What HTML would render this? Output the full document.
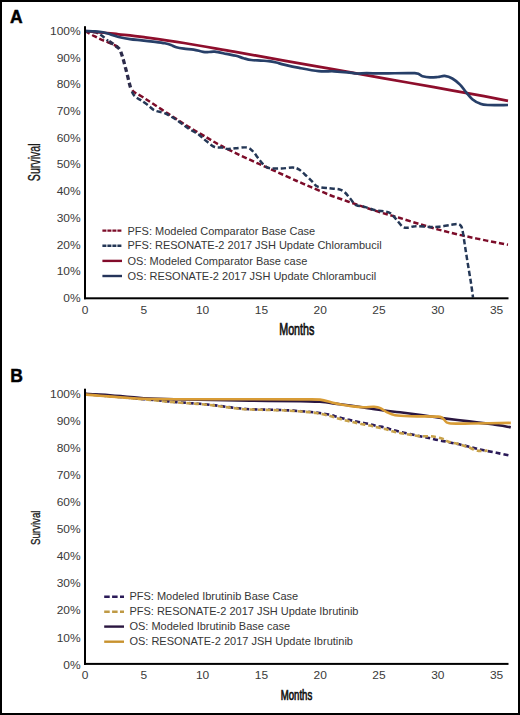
<!DOCTYPE html>
<html><head><meta charset="utf-8"><style>
html,body{margin:0;padding:0;background:#fff;}
body{width:520px;height:715px;overflow:hidden;}
svg{display:block;}
text{font-family:"Liberation Sans",sans-serif;}
.tick text{font-size:11.4px;fill:#3a3a3a;}
.leg text{font-size:11px;fill:#363636;}
.panel{font-weight:bold;font-size:17.5px;fill:#000;stroke:#000;stroke-width:0.45px;}
.axt{font-weight:bold;fill:#111;}
.axt2{fill:#1a1a1a;stroke:#1a1a1a;stroke-width:0.35px;}
.axt3{fill:#111;stroke:#111;stroke-width:0.7px;}
</style></head><body>
<svg width="520" height="715" viewBox="0 0 520 715">
<rect x="0" y="0" width="520" height="715" fill="#fff"/>
<!-- Panel A -->
<text x="10" y="22.5" class="panel">A</text>
<g class="tick">
<text transform="translate(80.6,34.9) scale(1.05,1)" text-anchor="end">100%</text>
<text transform="translate(80.6,61.6) scale(1.05,1)" text-anchor="end">90%</text>
<text transform="translate(80.6,88.3) scale(1.05,1)" text-anchor="end">80%</text>
<text transform="translate(80.6,115.0) scale(1.05,1)" text-anchor="end">70%</text>
<text transform="translate(80.6,141.7) scale(1.05,1)" text-anchor="end">60%</text>
<text transform="translate(80.6,168.4) scale(1.05,1)" text-anchor="end">50%</text>
<text transform="translate(80.6,195.1) scale(1.05,1)" text-anchor="end">40%</text>
<text transform="translate(80.6,221.9) scale(1.05,1)" text-anchor="end">30%</text>
<text transform="translate(80.6,248.6) scale(1.05,1)" text-anchor="end">20%</text>
<text transform="translate(80.6,275.3) scale(1.05,1)" text-anchor="end">10%</text>
<text transform="translate(80.6,302.0) scale(1.05,1)" text-anchor="end">0%</text>
<text transform="translate(85.0,313.5) scale(1.05,1)" text-anchor="middle">0</text>
<text transform="translate(143.8,313.5) scale(1.05,1)" text-anchor="middle">5</text>
<text transform="translate(202.6,313.5) scale(1.05,1)" text-anchor="middle">10</text>
<text transform="translate(261.4,313.5) scale(1.05,1)" text-anchor="middle">15</text>
<text transform="translate(320.2,313.5) scale(1.05,1)" text-anchor="middle">20</text>
<text transform="translate(379.0,313.5) scale(1.05,1)" text-anchor="middle">25</text>
<text transform="translate(437.8,313.5) scale(1.05,1)" text-anchor="middle">30</text>
<text transform="translate(496.6,313.5) scale(1.05,1)" text-anchor="middle">35</text>
</g>
<text class="axt2" transform="translate(39.9,162.3) rotate(-90) scale(0.655,1)" text-anchor="middle" font-size="16.2">Survival</text>
<text class="axt3" transform="translate(296.8,334.6) scale(0.655,1)" text-anchor="middle" font-size="16.4">Months</text>
<g fill="none" stroke-linejoin="round">
<path d="M85.0,31.0 C86.6,31.9 91.7,34.8 94.4,36.2 C97.1,37.6 99.0,38.6 101.3,39.6 C103.6,40.6 105.9,41.4 108.0,42.3 C110.1,43.2 112.3,44.0 114.0,44.8 C115.7,45.6 116.9,46.2 118.0,47.2" stroke="#7c0c29" stroke-width="2.5" stroke-dasharray="5.3 2.7"/>
<path d="M132.3,90.3 C133.2,91.5 134.1,92.0 135.5,93.0 C136.9,94.0 138.7,94.6 141.0,96.0 C143.3,97.4 144.6,98.3 149.2,101.3 C153.8,104.3 162.1,109.7 168.5,113.9 C174.9,118.1 181.3,122.3 187.7,126.3 C194.1,130.2 201.5,134.4 206.9,137.6 C212.3,140.8 214.6,142.3 220.0,145.2 C225.4,148.1 232.8,151.7 239.2,154.8 C245.6,157.9 252.1,160.8 258.5,163.7 C264.9,166.6 271.3,169.4 277.7,172.3 C284.1,175.2 291.5,178.6 296.9,181.0 C302.3,183.4 304.6,184.3 310.0,186.6 C315.4,188.9 322.8,192.3 329.2,194.8 C335.6,197.3 342.1,199.4 348.5,201.7 C354.9,203.9 361.3,206.2 367.7,208.3 C374.1,210.4 381.5,212.7 386.9,214.3 C392.3,215.9 394.6,216.4 400.0,218.0 C405.4,219.6 412.8,222.1 419.2,224.0 C425.6,225.9 432.1,227.9 438.5,229.6 C444.9,231.3 451.3,232.9 457.7,234.4 C464.1,235.9 469.8,237.1 476.9,238.6 C483.9,240.1 494.8,242.3 500.0,243.3 C505.2,244.3 506.7,244.5 508.0,244.7" stroke="#7c0c29" stroke-width="2.5" stroke-dasharray="5.3 2.7"/>
<path d="M85.0,31.0 C86.8,31.2 92.8,31.7 95.5,32.4 C98.2,33.1 99.2,33.9 101.3,35.3 C103.4,36.7 105.9,39.1 108.2,40.8" stroke="#243756" stroke-width="2.5" stroke-dasharray="5.3 2.7"/>
<path d="M108.2,40.8 C110.5,42.5 113.3,44.1 115.2,45.5 C117.1,46.9 118.5,47.7 119.6,49.2 C120.7,50.8 121.1,52.9 121.8,54.8 C122.5,56.7 123.0,58.5 123.6,60.6 C124.2,62.7 124.8,65.0 125.4,67.5 C126.1,70.0 126.8,72.9 127.5,75.6 C128.2,78.3 128.8,81.2 129.4,83.5 C130.0,85.8 130.5,87.7 131.2,89.6" stroke="#2c2b4a" stroke-width="3.3" stroke-dasharray="5 3" stroke-dashoffset="-1"/>
<path d="M131.2,89.6 C131.9,91.5 132.5,93.4 133.6,94.8 C134.7,96.2 136.2,97.2 137.5,98.2 C138.8,99.2 139.8,99.4 141.5,100.6 C143.2,101.8 145.8,103.6 148.0,105.3 C150.2,107.0 152.2,109.3 155.0,110.6 C157.8,111.9 161.1,111.7 164.6,113.2 C168.1,114.7 172.3,117.2 176.2,119.7 C180.0,122.2 183.9,125.5 187.7,128.0 C191.5,130.6 196.0,132.7 199.2,135.0 C202.4,137.3 204.3,139.6 206.9,141.6 C209.5,143.6 212.0,146.0 214.6,147.0 C217.2,148.0 220.1,147.3 222.3,147.6 C224.5,147.9 225.5,148.9 227.7,149.0 C229.9,149.1 232.2,148.6 235.4,148.3 C238.6,148.1 244.0,147.0 246.9,147.5 C249.8,148.0 250.8,149.3 252.7,151.2 C254.6,153.0 256.6,156.2 258.5,158.6 C260.4,160.9 262.3,163.7 264.2,165.3 C266.1,166.9 267.1,167.8 270.0,168.3 C272.9,168.8 277.7,168.6 281.5,168.5 C285.3,168.4 290.1,167.4 293.0,167.6 C295.9,167.8 296.9,168.3 298.8,169.4 C300.7,170.5 302.4,172.2 304.6,174.2 C306.9,176.2 310.1,179.5 312.3,181.6 C314.5,183.7 314.9,185.5 317.7,186.6 C320.5,187.7 325.7,187.9 329.2,188.3 C332.7,188.8 336.2,188.7 338.8,189.3 C341.4,190.0 342.7,190.6 344.6,192.2 C346.5,193.8 348.5,196.6 350.4,198.8 C352.3,201.0 354.0,203.9 356.2,205.2 C358.4,206.5 360.6,205.8 363.8,206.6 C367.0,207.4 371.9,209.5 375.4,210.3 C378.9,211.1 382.4,210.9 385.0,211.4 C387.6,211.9 388.9,212.2 390.8,213.6 C392.7,215.0 394.6,217.5 396.5,219.6 C398.4,221.7 400.6,225.0 402.3,226.4 C404.1,227.8 404.8,227.8 407.0,227.8 C409.2,227.8 411.8,226.3 415.4,226.2 C419.0,226.0 424.9,226.8 428.8,226.9 C432.7,227.0 435.0,227.1 438.5,226.8 C442.0,226.5 446.8,225.5 450.0,225.0 C453.2,224.5 455.9,223.8 457.7,224.0 C459.5,224.2 460.1,224.7 461.0,226.0 C461.9,227.3 462.1,228.3 462.8,232.0 C463.5,235.7 464.4,242.3 465.3,248.0 C466.2,253.7 467.2,260.2 468.2,266.0 C469.1,271.8 470.2,277.8 471.0,283.0 C471.8,288.2 472.7,295.1 473.0,297.5" stroke="#243756" stroke-width="2.5" stroke-dasharray="5.3 2.7" stroke-dashoffset="-2"/>
<path d="M85.0,31.0 C88.7,31.3 101.4,32.5 107.0,33.0 C112.6,33.5 112.4,33.6 118.6,34.3 C124.8,35.0 133.1,35.8 144.0,37.2 C154.9,38.7 169.0,40.6 184.0,43.0 C199.0,45.4 217.3,48.8 234.0,51.7 C250.7,54.6 267.3,57.6 284.0,60.6 C300.7,63.6 317.3,66.5 334.0,69.4 C350.7,72.4 367.3,75.3 384.0,78.3 C400.7,81.3 417.3,84.2 434.0,87.2 C450.7,90.2 471.7,93.9 484.0,96.2 C496.3,98.5 504.0,100.0 508.0,100.8" stroke="#8e0e2c" stroke-width="2.7"/>
<path d="M85.0,31.0 C86.7,31.1 92.0,31.2 95.0,31.4 C98.0,31.6 100.5,31.8 103.0,32.3 C105.5,32.8 107.4,33.4 110.0,34.2 C112.6,35.0 115.3,36.2 118.6,37.0 C121.9,37.8 126.2,38.7 130.0,39.2 C133.8,39.8 137.9,39.9 141.7,40.3 C145.5,40.7 149.2,41.1 153.0,41.6 C156.8,42.1 161.8,42.7 164.8,43.3 C167.8,43.9 169.1,44.3 171.0,45.0 C172.9,45.7 174.1,46.7 176.3,47.3 C178.5,47.9 181.1,48.3 184.0,48.7 C186.9,49.1 190.4,49.1 193.6,49.6 C196.8,50.1 200.6,51.4 203.2,51.8 C205.8,52.2 207.1,52.0 209.0,52.0 C210.9,52.0 211.9,51.4 214.8,51.7 C217.7,52.0 222.8,53.2 226.3,53.9 C229.8,54.6 233.1,55.1 236.0,55.8 C238.9,56.5 241.0,57.5 243.6,58.2 C246.2,58.9 248.4,59.6 251.3,60.0 C254.2,60.4 258.1,60.4 261.0,60.6 C263.9,60.8 266.1,60.8 268.6,61.1 C271.2,61.4 273.7,61.9 276.3,62.5 C278.9,63.1 280.1,63.7 284.0,64.6 C287.9,65.5 293.6,66.8 299.4,67.9 C305.2,69.0 312.8,70.5 318.6,71.1 C324.4,71.7 329.2,71.1 334.0,71.3 C338.8,71.5 343.7,71.9 347.5,72.3 C351.3,72.7 353.8,73.3 357.0,73.5 C360.2,73.7 362.2,73.2 366.7,73.2 C371.2,73.2 376.0,73.4 384.0,73.4 C392.0,73.4 408.4,72.7 414.8,73.2 C421.2,73.7 420.0,75.5 422.5,76.2 C425.0,76.9 427.4,77.3 430.0,77.4 C432.6,77.5 435.4,77.2 437.8,77.0 C440.2,76.8 442.2,75.7 444.6,75.9 C447.0,76.2 449.7,77.0 452.3,78.5 C454.9,80.0 457.7,82.3 460.0,84.6 C462.3,86.9 464.1,89.9 466.2,92.3 C468.2,94.7 470.0,97.3 472.3,99.2 C474.6,101.1 477.4,102.6 480.0,103.6 C482.6,104.6 483.0,104.8 487.7,105.0 C492.4,105.2 504.6,105.0 508.0,105.0" stroke="#273f68" stroke-width="2.7"/>
</g>
<rect x="84" y="26.2" width="2" height="273" fill="#000"/>
<rect x="84" y="297.3" width="424.5" height="2" fill="#000"/>
<g class="leg">
<line x1="102.4" y1="230.6" x2="122" y2="230.6" stroke="#7c0c29" stroke-width="2.4" stroke-dasharray="4 1"/>
<text x="127.5" y="234.5">PFS: Modeled Comparator Base Case</text>
<line x1="102.4" y1="245.8" x2="122" y2="245.8" stroke="#243756" stroke-width="2.4" stroke-dasharray="4 1"/>
<text x="127.5" y="249.3">PFS: RESONATE-2 2017 JSH Update Chlorambucil</text>
<line x1="102.4" y1="260.9" x2="122" y2="260.9" stroke="#820b2a" stroke-width="2.4"/>
<text x="127.5" y="264.5">OS: Modeled Comparator Base case</text>
<line x1="102.4" y1="276.0" x2="122" y2="276.0" stroke="#25345a" stroke-width="2.4"/>
<text x="127.5" y="279.7">OS: RESONATE-2 2017 JSH Update Chlorambucil</text>
</g>
<!-- Panel B -->
<text x="10.3" y="382.1" class="panel">B</text>
<g class="tick">
<text transform="translate(80.6,397.7) scale(1.05,1)" text-anchor="end">100%</text>
<text transform="translate(80.6,424.8) scale(1.05,1)" text-anchor="end">90%</text>
<text transform="translate(80.6,451.9) scale(1.05,1)" text-anchor="end">80%</text>
<text transform="translate(80.6,479.0) scale(1.05,1)" text-anchor="end">70%</text>
<text transform="translate(80.6,506.1) scale(1.05,1)" text-anchor="end">60%</text>
<text transform="translate(80.6,533.1) scale(1.05,1)" text-anchor="end">50%</text>
<text transform="translate(80.6,560.2) scale(1.05,1)" text-anchor="end">40%</text>
<text transform="translate(80.6,587.3) scale(1.05,1)" text-anchor="end">30%</text>
<text transform="translate(80.6,614.4) scale(1.05,1)" text-anchor="end">20%</text>
<text transform="translate(80.6,641.5) scale(1.05,1)" text-anchor="end">10%</text>
<text transform="translate(80.6,668.6) scale(1.05,1)" text-anchor="end">0%</text>
<text transform="translate(85.0,679.2) scale(1.05,1)" text-anchor="middle">0</text>
<text transform="translate(143.8,679.2) scale(1.05,1)" text-anchor="middle">5</text>
<text transform="translate(202.6,679.2) scale(1.05,1)" text-anchor="middle">10</text>
<text transform="translate(261.4,679.2) scale(1.05,1)" text-anchor="middle">15</text>
<text transform="translate(320.2,679.2) scale(1.05,1)" text-anchor="middle">20</text>
<text transform="translate(379.0,679.2) scale(1.05,1)" text-anchor="middle">25</text>
<text transform="translate(437.8,679.2) scale(1.05,1)" text-anchor="middle">30</text>
<text transform="translate(496.6,679.2) scale(1.05,1)" text-anchor="middle">35</text>
</g>
<text class="axt2" transform="translate(39.9,527.8) rotate(-90) scale(0.715,1)" text-anchor="middle" font-size="13.6">Survival</text>
<text class="axt3" transform="translate(296.5,700) scale(0.67,1)" text-anchor="middle" font-size="14.3">Months</text>
<g fill="none" stroke-linejoin="round">
<path d="M85.0,394.0 C89.2,394.4 101.8,395.5 110.0,396.2 C118.2,396.9 127.3,397.7 134.0,398.3 C140.7,398.9 144.2,399.2 150.0,399.7 C155.8,400.2 162.6,400.9 169.0,401.5 C175.4,402.1 183.3,402.6 188.5,403.0 C193.7,403.4 195.5,403.4 200.0,403.8 C204.5,404.2 210.3,404.8 215.4,405.4 C220.5,406.0 225.7,406.8 230.8,407.4 C235.9,408.0 241.1,408.6 246.2,409.0 C251.3,409.4 257.5,409.4 261.5,409.5 C265.5,409.6 266.0,409.6 270.0,409.7 C274.0,409.8 280.3,409.9 285.4,410.2 C290.5,410.4 295.7,410.8 300.8,411.2 C305.9,411.6 311.3,412.0 316.2,412.6 C321.1,413.2 326.6,414.0 330.0,414.7 C333.4,415.4 334.3,416.1 336.9,416.8 C339.5,417.5 343.0,418.4 345.6,419.0 C348.2,419.6 349.9,420.1 352.5,420.7 C355.1,421.3 358.2,421.9 361.1,422.5 C364.0,423.1 367.2,423.6 369.8,424.2 C372.4,424.8 374.1,425.3 376.7,425.9 C379.3,426.5 382.8,427.0 385.4,427.7 C388.0,428.4 389.7,429.2 392.3,429.9 C394.9,430.6 397.9,431.3 400.9,432.0 C403.8,432.7 406.8,433.3 410.0,434.0 C413.2,434.7 416.8,435.5 420.0,436.2 C423.2,436.9 425.8,437.3 429.0,438.0 C432.2,438.7 435.9,439.7 439.4,440.4 C442.9,441.1 446.1,441.6 449.8,442.4 C453.6,443.2 458.1,444.1 461.9,445.0 C465.6,445.9 468.8,446.6 472.3,447.5 C475.8,448.4 478.7,449.2 482.7,450.1 C486.7,451.0 491.8,451.9 496.5,452.8 C501.2,453.8 508.4,455.3 510.8,455.8" stroke="#2a1a58" stroke-width="2.6" stroke-dasharray="5 3"/>
<path d="M85.0,394.0 C89.2,394.4 101.8,395.6 110.0,396.4 C118.2,397.1 127.3,397.9 134.0,398.5 C140.7,399.1 144.2,399.3 150.0,399.9 C155.8,400.4 162.6,401.2 169.0,401.8 C175.4,402.4 183.3,402.9 188.5,403.3 C193.7,403.7 195.5,403.6 200.0,404.0 C204.5,404.4 210.3,405.1 215.4,405.7 C220.5,406.3 225.7,407.2 230.8,407.8 C235.9,408.4 241.1,409.0 246.2,409.3 C251.3,409.6 257.5,409.7 261.5,409.8 C265.5,409.9 266.0,409.9 270.0,410.0 C274.0,410.1 280.3,410.2 285.4,410.5 C290.5,410.8 295.7,411.1 300.8,411.5 C305.9,411.9 311.3,412.2 316.2,413.0 C321.1,413.8 326.6,415.1 330.0,416.0 C333.4,416.9 334.3,417.5 336.9,418.2 C339.5,418.9 343.0,419.8 345.6,420.4 C348.2,421.0 349.9,421.5 352.5,422.1 C355.1,422.7 358.2,423.3 361.1,423.9 C364.0,424.5 367.2,425.0 369.8,425.6 C372.4,426.2 374.1,426.7 376.7,427.3 C379.3,427.9 382.8,428.4 385.4,429.1 C388.0,429.8 389.7,430.6 392.3,431.3 C394.9,432.0 397.9,432.6 400.9,433.2 C403.8,433.8 406.8,434.1 410.0,434.6 C413.2,435.1 416.9,435.9 420.4,436.2 C423.9,436.5 427.4,436.0 430.8,436.3 C434.2,436.6 438.2,437.4 441.1,438.2 C444.0,439.0 445.1,440.4 448.0,441.4 C450.9,442.4 455.2,443.1 458.4,444.0 C461.6,444.9 464.2,445.8 467.1,446.8 C470.0,447.8 473.4,449.4 475.7,450.1 C478.0,450.8 479.0,450.9 481.0,451.0 C483.0,451.1 486.4,450.7 487.5,450.6" stroke="#c8a24a" stroke-width="2.6" stroke-dasharray="5 3" stroke-dashoffset="2.5"/>
<path d="M85.0,393.8 C89.2,394.0 101.8,394.6 110.0,395.2 C118.2,395.8 127.3,396.6 134.0,397.2 C140.7,397.8 139.0,398.2 150.0,398.6 C161.0,399.0 183.3,399.5 200.0,399.8 C216.7,400.1 233.3,400.4 250.0,400.7 C266.7,400.9 288.3,401.1 300.0,401.3 C311.7,401.5 313.3,401.3 320.0,401.8 C326.7,402.3 332.8,403.4 340.0,404.3 C347.2,405.2 356.1,406.4 363.5,407.5 C370.9,408.6 378.5,409.8 384.6,410.6 C390.7,411.4 393.6,411.5 400.0,412.3 C406.4,413.1 415.3,414.3 423.0,415.4 C430.7,416.4 438.3,417.6 446.0,418.6 C453.7,419.6 461.5,420.4 469.2,421.4 C476.9,422.3 485.4,423.3 492.3,424.3 C499.2,425.3 507.7,426.8 510.8,427.3" stroke="#2a1640" stroke-width="2.6"/>
<path d="M85.0,394.4 C87.5,394.6 94.7,395.4 100.0,395.8 C105.3,396.2 111.3,396.6 117.0,397.0 C122.7,397.4 128.5,398.0 134.0,398.3 C139.5,398.6 143.2,398.9 150.0,399.0 C156.8,399.1 158.3,399.1 175.0,399.2 C191.7,399.2 229.2,399.3 250.0,399.3 C270.8,399.3 288.3,399.3 300.0,399.4 C311.7,399.4 314.7,399.1 320.0,399.6 C325.3,400.1 328.4,401.7 331.7,402.5 C335.0,403.3 336.5,403.7 340.0,404.3 C343.5,404.9 349.0,405.9 352.9,406.4 C356.8,406.9 360.0,407.1 363.5,407.2 C367.0,407.3 371.2,406.6 374.0,406.8 C376.8,407.0 378.3,407.2 380.4,408.1 C382.5,409.0 384.2,410.9 386.7,412.1 C389.2,413.3 391.3,414.6 395.2,415.3 C399.1,416.0 402.9,416.1 410.0,416.3 C417.1,416.5 432.4,416.1 438.0,416.6 C443.6,417.1 441.9,418.3 443.8,419.4 C445.7,420.5 444.7,422.5 449.2,423.2 C453.7,423.9 460.5,423.6 470.8,423.5 C481.1,423.4 504.1,423.0 510.8,422.9" stroke="#d89c36" stroke-width="2.6"/>
</g>
<rect x="84" y="388.7" width="2" height="276.2" fill="#000"/>
<rect x="84" y="662.9" width="424.5" height="2" fill="#000"/>
<g class="leg">
<line x1="104.2" y1="596.7" x2="124" y2="596.7" stroke="#2a1a58" stroke-width="2.4" stroke-dasharray="5.5 2.4"/>
<text x="129.4" y="600">PFS: Modeled Ibrutinib Base Case</text>
<line x1="104.2" y1="611.7" x2="124" y2="611.7" stroke="#bf9a45" stroke-width="2.4" stroke-dasharray="5.5 2.4"/>
<text x="129.4" y="614.9">PFS: RESONATE-2 2017 JSH Update Ibrutinib</text>
<line x1="104.2" y1="626.6" x2="124" y2="626.6" stroke="#2a1640" stroke-width="2.4"/>
<text x="129.4" y="629.8">OS: Modeled Ibrutinib Base case</text>
<line x1="104.2" y1="641.7" x2="124" y2="641.7" stroke="#c8922e" stroke-width="2.4"/>
<text x="129.4" y="645">OS: RESONATE-2 2017 JSH Update Ibrutinib</text>
</g>
<!-- border -->
<rect x="1" y="1" width="518" height="713" fill="none" stroke="#000" stroke-width="2"/>
</svg>
</body></html>
